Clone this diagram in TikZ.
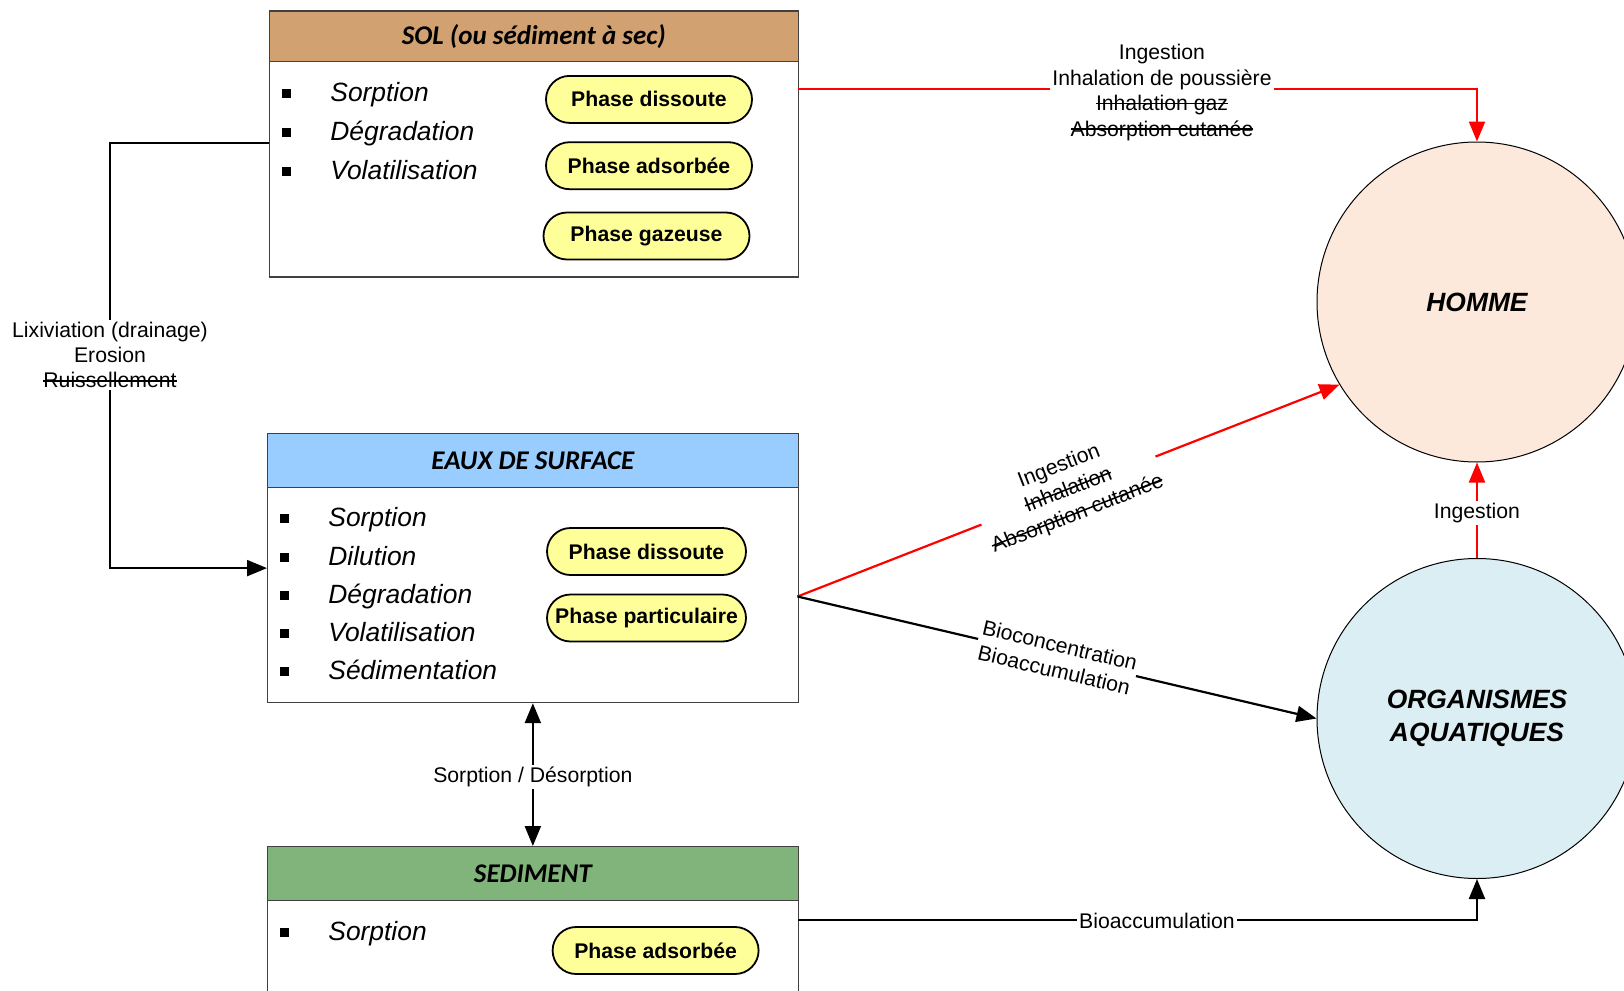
\documentclass[tikz,border=0pt]{standalone}
\usepackage{fontspec}
\setmainfont{Liberation Sans}
\newfontfamily\calib{Carlito}
\usetikzlibrary{arrows.meta,calc,shapes.misc}

% struck-through text: a rule laid over the boxed word
\newsavebox\strikebox
\newcommand\crossedout[1]{\sbox\strikebox{#1}%
  \leavevmode\rlap{\rule[0.3em]{\wd\strikebox}{0.07em}}\usebox\strikebox}

\definecolor{soltan}{RGB}{209,161,114}
\definecolor{eaublue}{RGB}{153,204,255}
\definecolor{sedgreen}{RGB}{128,180,122}
\definecolor{pillyellow}{RGB}{255,255,153}
\definecolor{peach}{RGB}{252,233,220}
\definecolor{paleblue}{RGB}{218,238,243}
\definecolor{boxline}{RGB}{64,64,64}
\definecolor{flowred}{RGB}{255,0,0}

\begin{document}
\begin{tikzpicture}[x=0.5pt,y=-0.5pt,
  compbox/.style={draw=boxline, line width=0.6pt, fill=white, rectangle,
    anchor=north west, inner sep=0pt, minimum width=265.25pt},
  headbox/.style={draw=boxline, line width=0.6pt, rectangle, anchor=north west,
    inner sep=0pt, minimum width=265.25pt,
    font=\calib\bfseries\itshape\fontsize{13.5}{15}\selectfont},
  bulletsq/.style={fill=black, minimum size=4.4pt, inner sep=0pt},
  procitem/.style={anchor=west, inner sep=0pt,
    font=\itshape\fontsize{13.2}{15}\selectfont, text height=9.5pt, text depth=2.8pt,
    label={[bulletsq,label distance=19.3pt,yshift=0.6pt]left:{}}},
  phasepill/.style={rounded rectangle, draw, line width=0.9pt, fill=pillyellow,
    minimum width=103pt, minimum height=23.5pt, inner sep=0pt,
    font=\bfseries\fontsize{10.6}{12}\selectfont},
  target/.style={circle, draw, line width=0.5pt, minimum size=160pt, inner sep=0pt,
    align=center, font=\bfseries\itshape\fontsize{13.2}{16.5}\selectfont},
  flowlbl/.style={fill=white, inner sep=1pt, align=center,
    font=\fontsize{10.6}{12.7}\selectfont},
  flow/.style={line width=1.1pt, -{Triangle[length=10pt,width=8pt]}},
  redflow/.style={flow, draw=flowred}
]
\useasboundingbox (0,0) rectangle (1624,991);
\clip (0,0) rectangle (1624,991);

% ---------- SOL compartment ----------
\node[compbox, minimum width=264.25pt, minimum height=133pt] (sol) at (269,10.4) {};
\node[headbox, fill=soltan, minimum width=264.25pt, minimum height=25.3pt] (solhead) at (269,10.4)
  {SOL (ou sédiment à sec)};
\node[procitem] (solA) at (330,95)    {Sorption};
\node[procitem] (solB) at (330,133.5) {Dégradation};
\node[procitem] (solC) at (330,173)   {Volatilisation};
\node[phasepill] (solP1) at (649,99.4)  {Phase dissoute};
\node[phasepill] (solP2) at (649,165.7) {Phase adsorbée};
\node[phasepill] (solP3) at (646.5,236) {Phase gazeuse};

% ---------- EAUX DE SURFACE compartment ----------
\node[compbox, minimum height=134.5pt] (eaux) at (267,433) {};
\node[headbox, fill=eaublue, minimum height=26.9pt] (eauxhead) at (267,433) {EAUX DE SURFACE};
\node[procitem] (eauA) at (328,520)   {Sorption};
\node[procitem] (eauB) at (328,559)   {Dilution};
\node[procitem] (eauC) at (328,596.5) {Dégradation};
\node[procitem] (eauD) at (328,634.8) {Volatilisation};
\node[procitem] (eauE) at (328,673)   {Sédimentation};
\node[phasepill, minimum width=99.5pt] (eauP1) at (646.5,551.5) {Phase dissoute};
\node[phasepill, minimum width=99.5pt] (eauP2) at (646.5,618)   {Phase particulaire};

% ---------- SEDIMENT compartment ----------
\node[compbox, minimum height=160pt] (sed) at (267,846) {};
\node[headbox, fill=sedgreen, minimum height=27pt] (sedhead) at (267,846) {SEDIMENT};
\node[procitem] (sedA) at (328,934) {Sorption};
\node[phasepill] (sedP1) at (655.6,950.5) {Phase adsorbée};

% ---------- receptors ----------
\node[target, fill=peach] (homme) at (1477,302) {HOMME};
\node[target, fill=paleblue] (org) at (1477,718.5) {ORGANISMES\\AQUATIQUES};

% ---------- transfer paths ----------
\coordinate (solL) at (269,143);
\coordinate (lixbend) at (110,143);
\coordinate (solR) at (797.5,89);
\coordinate (eauxR) at (797.5,596.5);
\coordinate (sedR) at (797.5,919.7);

% soil -> surface water
\draw[flow] (solL) -- (lixbend) |- (eaux.west);
\node[flowlbl] (lixlbl) at (110,355)
  {Lixiviation (drainage)\\Erosion\\\crossedout{Ruissellement}};

% soil -> man
\draw[redflow] (solR) -| (homme.north);
\node[flowlbl] (solhomlbl) at (1162,92.5)
  {Ingestion\\Inhalation de poussière\\\crossedout{Inhalation gaz}\\\crossedout{Absorption cutanée}};

% surface water -> man
\draw[redflow] (eauxR) -- (homme.211)
  node[flowlbl, sloped, pos=0.5] (eauhomlbl)
  {Ingestion\\\crossedout{Inhalation}\\\crossedout{Absorption cutanée}};

% surface water -> aquatic organisms
\draw[flow] (eauxR) -- (org.west)
  node[flowlbl, sloped, pos=0.5] (eauorglbl) {Bioconcentration\\Bioaccumulation};

% surface water <-> sediment
\draw[line width=1.1pt, {Triangle[length=10pt,width=8pt]}-{Triangle[length=10pt,width=8pt]}]
  (eaux.south) -- (sed.north)
  node[flowlbl, pos=0.5, yshift=-1pt] (sorplbl) {Sorption / Désorption};

% sediment -> aquatic organisms
\draw[flow] (sedR) -| (org.south);
\node[flowlbl] (sedorglbl) at (1157,920.5) {Bioaccumulation};

% aquatic organisms -> man
\draw[redflow] (org.north) -- (homme.south)
  node[flowlbl, pos=0.5, yshift=-1.3pt] (orghomlbl) {Ingestion};
\end{tikzpicture}
\end{document}
